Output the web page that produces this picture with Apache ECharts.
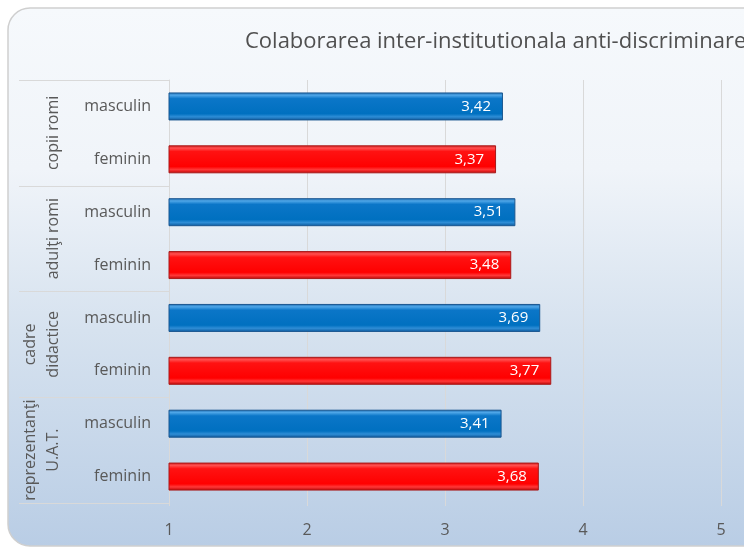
<!DOCTYPE html>
<html>
<head>
<meta charset="utf-8">
<script src="https://cdn.jsdelivr.net/npm/echarts@6/dist/echarts.min.js"></script>
<style>
html,body{margin:0;padding:0;background:#ffffff;}
#chart{width:744px;height:548px;}
</style>
</head>
<body>
<div id="chart"></div>
<script>
var title = 'Colaborarea inter-institutionala anti-discriminare';
var groups = ['copii romi', 'adulţi romi', 'cadre\ndidactice', 'reprezentanţi\nU.A.T.'];
var categories = ['masculin', 'feminin', 'masculin', 'feminin', 'masculin', 'feminin', 'masculin', 'feminin'];
var values = [3.42, 3.37, 3.51, 3.48, 3.69, 3.77, 3.41, 3.68];
var xTicks = [1, 2, 3, 4, 5];

function grad(stops) {
  return new echarts.graphic.LinearGradient(0, 0, 0, 1, stops.map(function (s) { return { offset: s[0], color: s[1] }; }));
}
var blueStyle = {
  color: grad([[0, '#1b68ad'], [0.1, '#4ea6e8'], [0.22, '#0b76c8'], [0.76, '#0070c0'], [0.87, '#2e8dd6'], [1, '#0a5699']]),
  borderColor: '#1a5790', borderWidth: 1
};
var redStyle = {
  color: grad([[0, '#d01414'], [0.1, '#ff5050'], [0.22, '#ff1212'], [0.76, '#ff0000'], [0.87, '#ff3838'], [1, '#b80000']]),
  borderColor: '#a81a1a', borderWidth: 1
};

var seriesData = values.map(function (v, i) {
  return { value: v, itemStyle: categories[i] === 'masculin' ? blueStyle : redStyle };
});

var chart = echarts.init(document.getElementById('chart'));
var font = '"Open Sans", "Noto Sans", sans-serif';
chart.setOption({
  animation: false,
  textStyle: { fontFamily: font },
  graphic: [{
    type: 'rect', z: -10, silent: true,
    shape: { x: 8, y: 8, width: 800, height: 538, r: 22 },
    style: {
      fill: new echarts.graphic.LinearGradient(0, 0, 0, 1, [
        { offset: 0, color: '#f6f9fc' }, { offset: 0.3, color: '#f0f4f9' },
        { offset: 0.6, color: '#d6e2ef' }, { offset: 1, color: '#b9cde5' }]),
      stroke: '#cfcfcf', lineWidth: 1.5
    }
  }],
  title: {
    text: title, left: 240, top: 26,
    textStyle: { fontSize: 22, fontWeight: 'normal', color: '#505050', fontFamily: font }
  },
  grid: { left: 169, right: 23, top: 80, bottom: 45 },
  xAxis: {
    type: 'value', min: 1, max: 5, interval: 1,
    axisLine: { show: false },
    axisTick: { show: true, length: 3, lineStyle: { color: '#d9d9d9' } },
    splitLine: { lineStyle: { color: '#d9d9d9' } },
    axisLabel: { color: '#595959', fontSize: 16, margin: 19,
      formatter: function (v) { return xTicks.indexOf(v) >= 0 ? String(v) : ''; } }
  },
  yAxis: [{
    type: 'category', data: categories, inverse: true, position: 'left',
    axisLine: { show: true, lineStyle: { color: '#d9d9d9' } },
    axisTick: { show: false },
    axisLabel: { color: '#595959', fontSize: 16, margin: 18, interval: 0 }
  }, {
    type: 'category', data: groups, inverse: true, position: 'left',
    axisLine: { show: false },
    axisTick: { show: true, interval: 0, length: 150, lineStyle: { color: '#d9d9d9' } },
    axisLabel: { color: '#595959', fontSize: 16, rotate: 90, margin: 104, lineHeight: 23, interval: 0 }
  }],
  series: [{
    type: 'bar', yAxisIndex: 0, data: seriesData, barWidth: 28,
    label: {
      show: true, position: 'insideRight', distance: 12, color: '#ffffff', fontSize: 15,
      formatter: function (p) { return p.value.toFixed(2).replace('.', ','); }
    }
  }]
});
</script>
</body>
</html>
